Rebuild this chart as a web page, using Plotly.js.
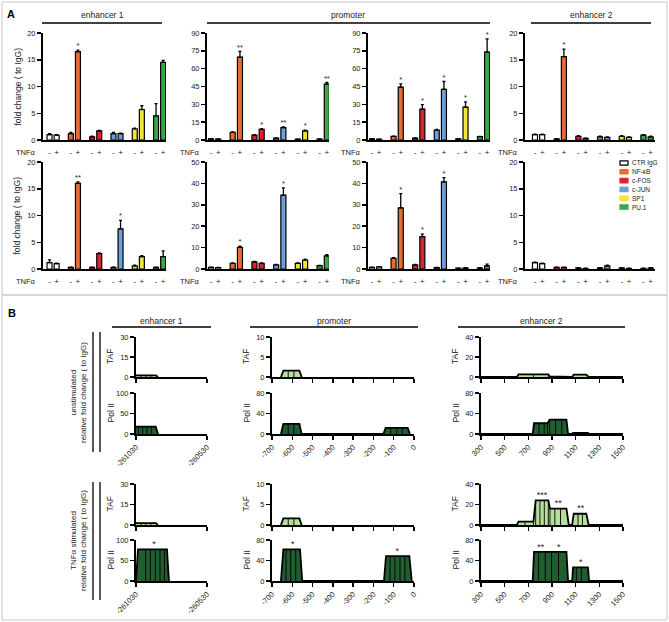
<!DOCTYPE html>
<html>
<head>
<meta charset="utf-8">
<script src="https://cdn.plot.ly/plotly-3.0.1.min.js"></script>
<style>
body { margin: 0; background: #fff; }
#chart { width: 669px; height: 622px; }
</style>
</head>
<body>
<div id="chart"></div>
<script>
var W = 669, H = 622;
var FONT = "Liberation Sans, Arial, sans-serif";

// ---- panel A: ChIP fold change, 6 factors x (-/+ TNFa)
var factors = ["CTR IgG", "NF-κB", "c-FOS", "c-JUN", "SP1", "PU.1"];
var factorColors = ["#ffffff", "#ea6a35", "#d8252b", "#6c9fd8", "#f1e43c", "#3aa84a"];
var tnfLabels = ["-", "+"];

// row 1
var enh1R1 = [1.0, 0.9, 1.2, 16.5, 0.6, 1.7, 1.2, 1.2, 2.1, 5.7, 4.5, 14.5];
var enh1R1Err = [0.2, 0.1, 0.2, 0.3, 0.1, 0.1, 0.2, 0.1, 0.1, 0.7, 2.3, 0.4];
var enh1R1Sig = ["", "", "", "*", "", "", "", "", "", "", "", ""];
var proAR1 = [1.0, 0.8, 6.5, 69.7, 4.2, 9.0, 1.5, 10.4, 0.7, 7.6, 0.8, 47.0];
var proAR1Err = [0.2, 0.1, 0.4, 4.8, 0.3, 0.5, 0.2, 0.6, 0.1, 0.6, 0.1, 1.4];
var proAR1Sig = ["", "", "", "**", "", "*", "", "**", "", "*", "", "**"];
var proBR1 = [1.0, 0.7, 3.0, 44.4, 1.5, 25.9, 8.4, 42.7, 1.0, 27.6, 2.8, 74.0];
var proBR1Err = [0.2, 0.1, 0.3, 2.8, 0.2, 3.9, 0.6, 6.5, 0.1, 4.4, 0.3, 11.0];
var proBR1Sig = ["", "", "", "*", "", "*", "", "*", "", "*", "", "*"];
var enh2R1 = [1.0, 1.0, 0.2, 15.6, 0.7, 0.3, 0.6, 0.5, 0.7, 0.5, 0.9, 0.6];
var enh2R1Err = [0.1, 0.1, 0.05, 1.4, 0.1, 0.05, 0.1, 0.1, 0.1, 0.1, 0.1, 0.1];
var enh2R1Sig = ["", "", "", "*", "", "", "", "", "", "", "", ""];
// row 2
var enh1R2 = [1.2, 1.0, 0.3, 16.0, 0.3, 2.9, 0.3, 7.5, 0.6, 2.3, 0.3, 2.3];
var enh1R2Err = [0.5, 0.1, 0.05, 0.3, 0.05, 0.1, 0.05, 1.6, 0.1, 0.2, 0.05, 1.1];
var enh1R2Sig = ["", "", "", "**", "", "", "", "*", "", "", "", ""];
var proAR2 = [0.8, 0.7, 2.6, 10.1, 3.3, 2.6, 1.9, 34.5, 2.6, 4.2, 1.6, 6.1];
var proAR2Err = [0.1, 0.1, 0.2, 0.6, 0.2, 0.2, 0.2, 3.4, 0.2, 0.4, 0.1, 0.6];
var proAR2Sig = ["", "", "", "*", "", "", "", "*", "", "", "", ""];
var proBR2 = [0.8, 1.0, 5.0, 28.6, 1.9, 15.1, 0.6, 40.7, 0.4, 0.5, 0.5, 1.5];
var proBR2Err = [0.1, 0.1, 0.3, 6.6, 0.2, 1.2, 0.1, 2.0, 0.05, 0.1, 0.1, 0.8];
var proBR2Sig = ["", "", "", "*", "", "*", "", "*", "", "", "", ""];
var enh2R2 = [1.2, 1.0, 0.3, 0.3, 0.2, 0.1, 0.2, 0.6, 0.2, 0.1, 0.1, 0.2];
var enh2R2Err = [0.1, 0.1, 0.05, 0.05, 0.05, 0.05, 0.05, 0.1, 0.05, 0.05, 0.05, 0.05];
var enh2R2Sig = ["", "", "", "", "", "", "", "", "", "", "", ""];

// ---- panel B: TAF / Pol II scans
var bE1Ticks = [-261030, -260530];
var bE1TickText = ["-261030", "-260530"];
var bE1TafUnX = [-261030, -260995, -260960, -260925, -260890, -260875];
var bE1TafUnY = [1.2, 1.2, 1.2, 1.2, 1.2, 0];
var bE1PolUnX = [-261030, -261014, -260983, -260953, -260922, -260891, -260875];
var bE1PolUnY = [18, 18, 18, 18, 18, 18, 0];
var bE1TafStX = [-261030, -260995, -260960, -260925, -260890, -260875];
var bE1TafStY = [1.3, 1.3, 1.3, 1.3, 1.3, 0];
var bE1PolStX = [-261030, -261016, -260962, -260929, -260894, -260861, -260830, -260812, -260798];
var bE1PolStY = [0, 77, 77, 77, 77, 77, 77, 77, 0];
var bE1PolStSigX = [-260903];
var bE1PolStSig = ["*"];

var bPrTicks = [-700, -600, -500, -400, -300, -200, -100, 0];
var bPrTickText = ["-700", "-600", "-500", "-400", "-300", "-200", "-100", "0"];
var bPrTafUnX = [-656, -644, -620, -592, -565, -554];
var bPrTafUnY = [0, 1.6, 1.6, 1.6, 1.6, 0];
var bPrPolUnX = [-656, -644, -620, -592, -565, -554, -151, -140, -115, -85, -58, -31, -20];
var bPrPolUnY = [0, 19.7, 19.7, 19.7, 19.7, 0, 0, 11.8, 11.8, 11.8, 11.8, 11.8, 0];
var bPrTafStX = [-656, -644, -620, -592, -565, -554];
var bPrTafStY = [0, 1.6, 1.6, 1.6, 1.6, 0];
var bPrPolStX = [-656, -644, -631, -608, -583, -562, -551, -148, -138, -118, -94, -69, -45, -23, -11];
var bPrPolStY = [0, 61.7, 61.7, 61.7, 61.7, 61.7, 0, 0, 48.7, 48.7, 48.7, 48.7, 48.7, 48.7, 0];
var bPrPolStSigX = [-598, -82];
var bPrPolStSig = ["*", "*"];

var bE2Ticks = [300, 500, 700, 900, 1100, 1300, 1500];
var bE2TickText = ["300", "500", "700", "900", "1100", "1300", "1500"];
var bE2TafUnX = [300, 603, 617, 743, 869, 883, 1022, 1042, 1070, 1084, 1190, 1210, 1500];
var bE2TafUnY = [0, 0, 2.6, 2.6, 2.6, 0.5, 0.5, 0, 0, 2.3, 2.3, 0, 0];
var bE2PolUnX = [300, 737, 748, 790, 834, 862, 880, 930, 983, 1022, 1036, 1064, 1078, 1204, 1213, 1500];
var bE2PolUnY = [0, 0, 21, 21, 21, 21, 28, 28, 28, 28, 0, 0, 2, 2, 0, 0];
var bE2TafStX = [300, 603, 617, 672, 743, 762, 798, 835, 869, 883, 924, 972, 1022, 1042, 1070, 1084, 1120, 1157, 1190, 1210, 1500];
var bE2TafStY = [0, 0, 3.3, 3.3, 3.3, 24, 24, 24, 24, 16, 16, 16, 16, 0, 0, 11, 11, 11, 11, 0, 0];
var bE2TafStSigX = [816, 953, 1143];
var bE2TafStSig = ["***", "**", "**"];
var bE2PolStX = [300, 737, 748, 787, 843, 896, 955, 1022, 1036, 1070, 1078, 1106, 1148, 1204, 1213, 1500];
var bE2PolStY = [0, 0, 57, 57, 57, 57, 57, 57, 0, 0, 26.6, 26.6, 26.6, 26.6, 0, 0];
var bE2PolStSigX = [804, 958, 1143];
var bE2PolStSig = ["**", "*", "*"];

var tafColor = "#b6de9c";
var polColor = "#215d31";

function px(x) { return x / W; }
function py(y) { return 1 - y / H; }

var traces = [];
var layout = {
    width: W, height: H,
    margin: { l: 0, r: 0, t: 0, b: 0 },
    showlegend: false,
    paper_bgcolor: "#fff",
    plot_bgcolor: "rgba(0,0,0,0)",
    font: { family: FONT, size: 7.5, color: "#222" },
    shapes: [],
    annotations: []
};

function note(x, y, text, opts) {
    var a = { xref: "paper", yref: "paper", x: px(x), y: py(y), text: text, showarrow: false,
        xanchor: "center", yanchor: "middle", font: { size: 8.5 } };
    for (var k in opts) a[k] = opts[k];
    layout.annotations.push(a);
}
function hline(x0, x1, y, color, w) {
    layout.shapes.push({ type: "line", xref: "paper", yref: "paper", x0: px(x0), x1: px(x1), y0: py(y), y1: py(y),
        line: { color: color, width: w } });
}
function vline(x, y0, y1, color, w) {
    layout.shapes.push({ type: "line", xref: "paper", yref: "paper", x0: px(x), x1: px(x), y0: py(y0), y1: py(y1),
        line: { color: color, width: w } });
}

// ---------- panel A
var aCharts = [
    { v: enh1R1, e: enh1R1Err, s: enh1R1Sig, left: 43, right: 166, top: 33, bottom: 140, ymax: 20, dtick: 5, xr: [-0.92, 16.4] },
    { v: proAR1, e: proAR1Err, s: proAR1Sig, left: 207, right: 329, top: 33, bottom: 140, ymax: 90, dtick: 15, xr: [-0.55, 16.3] },
    { v: proBR1, e: proBR1Err, s: proBR1Sig, left: 368, right: 490, top: 33, bottom: 140, ymax: 90, dtick: 15, xr: [-0.55, 16.4] },
    { v: enh2R1, e: enh2R1Err, s: enh2R1Sig, left: 525, right: 655, top: 33, bottom: 140, ymax: 20, dtick: 5, xr: [-1.38, 16.6] },
    { v: enh1R2, e: enh1R2Err, s: enh1R2Sig, left: 43, right: 166, top: 162, bottom: 269, ymax: 20, dtick: 5, xr: [-0.92, 16.4] },
    { v: proAR2, e: proAR2Err, s: proAR2Sig, left: 207, right: 329, top: 162, bottom: 269, ymax: 50, dtick: 10, xr: [-0.55, 16.3] },
    { v: proBR2, e: proBR2Err, s: proBR2Sig, left: 368, right: 490, top: 162, bottom: 269, ymax: 50, dtick: 10, xr: [-0.55, 16.4] },
    { v: enh2R2, e: enh2R2Err, s: enh2R2Sig, left: 525, right: 655, top: 162, bottom: 269, ymax: 20, dtick: 5, xr: [-1.38, 16.6] }
];

var barX = [], barTnf = [], barColor = [];
factors.forEach(function (f, g) {
    tnfLabels.forEach(function (t, k) {
        barX.push(g * 3 + k);
        barTnf.push(t);
        barColor.push(factorColors[g]);
    });
});

var n = 0;
aCharts.forEach(function (c) {
    n++;
    var sx = n > 1 ? String(n) : "";
    traces.push({
        type: "bar", x: barX, y: c.v, width: 0.7, xaxis: "x" + sx, yaxis: "y" + sx,
        marker: { color: barColor, line: { color: "#000", width: 1.2 } },
        error_y: { type: "data", array: c.e, arrayminus: c.e.map(function () { return 0; }), symmetric: false,
            color: "#000", thickness: 1.3, width: 1.5 },
        hoverinfo: "none"
    });
    traces.push({
        type: "scatter", mode: "text", x: barX, y: c.v.map(function (v, i) { return v + c.e[i]; }),
        text: c.s, textposition: "top center", textfont: { size: 7.5, color: "#222" },
        cliponaxis: false, xaxis: "x" + sx, yaxis: "y" + sx, hoverinfo: "none"
    });
    layout["xaxis" + sx] = {
        domain: [px(c.left), px(c.right)], anchor: "y" + sx, range: c.xr,
        tickmode: "array", tickvals: barX, ticktext: barTnf, ticks: "",
        showline: true, linecolor: "#000", linewidth: 2, showgrid: false, zeroline: false,
        tickfont: { size: 8 }, ticklabelstandoff: 3, fixedrange: true
    };
    layout["yaxis" + sx] = {
        domain: [py(c.bottom), py(c.top)], anchor: "x" + sx, range: [0, c.ymax],
        tick0: 0, dtick: c.dtick, ticks: "outside", ticklen: 4, tickwidth: 1.5, tickcolor: "#000",
        showline: true, linecolor: "#000", linewidth: 2, showgrid: false, zeroline: false,
        tickfont: { size: 7.5 }, fixedrange: true
    };
    note(c.left - 5, c.bottom + 12, "TNFα", { xanchor: "right", font: { size: 7.5 } });
});

note(17, 86.5, "fold change ( to IgG)", { textangle: -90 });
note(17, 215.5, "fold change ( to IgG)", { textangle: -90 });

// headers panel A
hline(42, 162, 23, "#000", 1.5); note(102, 15, "enhancer 1");
hline(207, 490, 23, "#000", 1.5); note(348, 15, "promoter");
hline(531, 651, 23, "#000", 1.5); note(591, 15, "enhancer 2");

// legend (drawn inside the lower enhancer 2 chart)
factors.forEach(function (f, i) {
    var y = 163 + i * 8.8;
    layout.shapes.push({ type: "rect", xref: "paper", yref: "paper", x0: px(620), x1: px(628), y0: py(y + 2.2), y1: py(y - 2.2),
        fillcolor: factorColors[i], line: { color: i === 0 ? "#000" : factorColors[i], width: 1.2 } });
    note(630, y, f, { xanchor: "left", font: { size: 6.5 } });
});

// ---------- panel B
var bCols = [
    { left: 136, right: 207, range: [-261030, -260530], ticks: bE1Ticks, text: bE1TickText, tafMax: 30, polMax: 100, title: "enhancer 1", hl: 112, hr: 211 },
    { left: 272, right: 414, range: [-700, 0], ticks: bPrTicks, text: bPrTickText, tafMax: 10, polMax: 80, title: "promoter", hl: 250, hr: 418 },
    { left: 481, right: 623, range: [300, 1500], ticks: bE2Ticks, text: bE2TickText, tafMax: 40, polMax: 80, title: "enhancer 2", hl: 458, hr: 625 }
];
var bRows = [
    { top: 337, bottom: 377, name: "TAF", pol: false },
    { top: 393, bottom: 434, name: "Pol II", pol: true },
    { top: 484, bottom: 525, name: "TAF", pol: false },
    { top: 540, bottom: 581, name: "Pol II", pol: true }
];
var bData = [
    [{ x: bE1TafUnX, y: bE1TafUnY }, { x: bPrTafUnX, y: bPrTafUnY }, { x: bE2TafUnX, y: bE2TafUnY }],
    [{ x: bE1PolUnX, y: bE1PolUnY }, { x: bPrPolUnX, y: bPrPolUnY }, { x: bE2PolUnX, y: bE2PolUnY }],
    [{ x: bE1TafStX, y: bE1TafStY }, { x: bPrTafStX, y: bPrTafStY }, { x: bE2TafStX, y: bE2TafStY, sx: bE2TafStSigX, st: bE2TafStSig }],
    [{ x: bE1PolStX, y: bE1PolStY, sx: bE1PolStSigX, st: bE1PolStSig }, { x: bPrPolStX, y: bPrPolStY, sx: bPrPolStSigX, st: bPrPolStSig },
     { x: bE2PolStX, y: bE2PolStY, sx: bE2PolStSigX, st: bE2PolStSig }]
];

function drops(xs, ys) {
    var dx = [], dy = [];
    for (var i = 0; i < xs.length; i++) {
        var l = i > 0 ? ys[i - 1] : 0, r = i < ys.length - 1 ? ys[i + 1] : 0;
        if (ys[i] > 0 && l > 0 && r > 0) { dx.push(xs[i], xs[i], null); dy.push(0, ys[i], null); }
    }
    return { x: dx, y: dy };
}
function valueAt(xs, ys, x) {
    var best = 0, bd = Infinity;
    xs.forEach(function (v, i) { var d = Math.abs(v - x); if (d < bd) { bd = d; best = ys[i]; } });
    return best;
}

bRows.forEach(function (row, ri) {
    bCols.forEach(function (col, ci) {
        n++;
        var sx = String(n);
        var d = bData[ri][ci];
        var ymax = row.pol ? col.polMax : col.tafMax;
        traces.push({
            type: "scatter", mode: "lines", x: d.x, y: d.y, fill: "tozeroy",
            fillcolor: row.pol ? polColor : tafColor, line: { color: "#000", width: 1.8 },
            xaxis: "x" + sx, yaxis: "y" + sx, hoverinfo: "none"
        });
        var dr = drops(d.x, d.y);
        traces.push({
            type: "scatter", mode: "lines", x: dr.x, y: dr.y, line: { color: "#000", width: 0.9 },
            xaxis: "x" + sx, yaxis: "y" + sx, hoverinfo: "none"
        });
        if (d.sx) {
            traces.push({
                type: "scatter", mode: "text", x: d.sx, y: d.sx.map(function (x) { return valueAt(d.x, d.y, x); }),
                text: d.st, textposition: "top center", textfont: { size: 9, color: "#222" },
                cliponaxis: false, xaxis: "x" + sx, yaxis: "y" + sx, hoverinfo: "none"
            });
        }
        layout["xaxis" + sx] = {
            domain: [px(col.left), px(col.right)], anchor: "y" + sx, range: col.range,
            tickmode: "array", tickvals: col.ticks, ticktext: col.text,
            showticklabels: row.pol, tickangle: -45,
            ticks: "outside", ticklen: 4, tickwidth: 1.5, tickcolor: "#000",
            showline: true, linecolor: "#000", linewidth: 2, showgrid: false, zeroline: false,
            tickfont: { size: 7.5 }, fixedrange: true
        };
        layout["yaxis" + sx] = {
            domain: [py(row.bottom), py(row.top)], anchor: "x" + sx, range: [0, ymax],
            tickmode: "array", tickvals: [0, ymax / 2, ymax],
            ticks: "outside", ticklen: 4, tickwidth: 1.5, tickcolor: "#000",
            showline: true, linecolor: "#000", linewidth: 2, showgrid: false, zeroline: false,
            tickfont: { size: 7.5 }, fixedrange: true
        };
        note(col.left - 26, (row.top + row.bottom) / 2, row.name, { textangle: -90 });
    });
});

bCols.forEach(function (col) {
    hline(col.hl, col.hr, 327, "#000", 1.5);
    note((col.hl + col.hr) / 2, 321, col.title);
});

note(78, 393, "unstimulated<br>relative fold change ( to IgG)", { textangle: -90, font: { size: 8 } });
note(78, 541, "TNFα stimulated<br>relative fold change ( to IgG)", { textangle: -90, font: { size: 8 } });
vline(93, 332, 452, "#000", 1.3); vline(100, 332, 452, "#000", 1.3);
vline(93, 482, 600, "#000", 1.3); vline(100, 482, 600, "#000", 1.3);

// panel frames and letters
layout.shapes.push({ type: "rect", xref: "paper", yref: "paper", x0: px(2), x1: px(667), y0: py(295), y1: py(2), line: { color: "#c8c8c8", width: 1 } });
layout.shapes.push({ type: "rect", xref: "paper", yref: "paper", x0: px(2), x1: px(667), y0: py(620), y1: py(295), line: { color: "#c8c8c8", width: 1 } });
note(11, 14, "<b>A</b>", { font: { size: 11, color: "#000" } });
note(12, 313, "<b>B</b>", { font: { size: 11, color: "#000" } });

Plotly.newPlot("chart", traces, layout, { displayModeBar: false, staticPlot: true });
</script>
</body>
</html>
